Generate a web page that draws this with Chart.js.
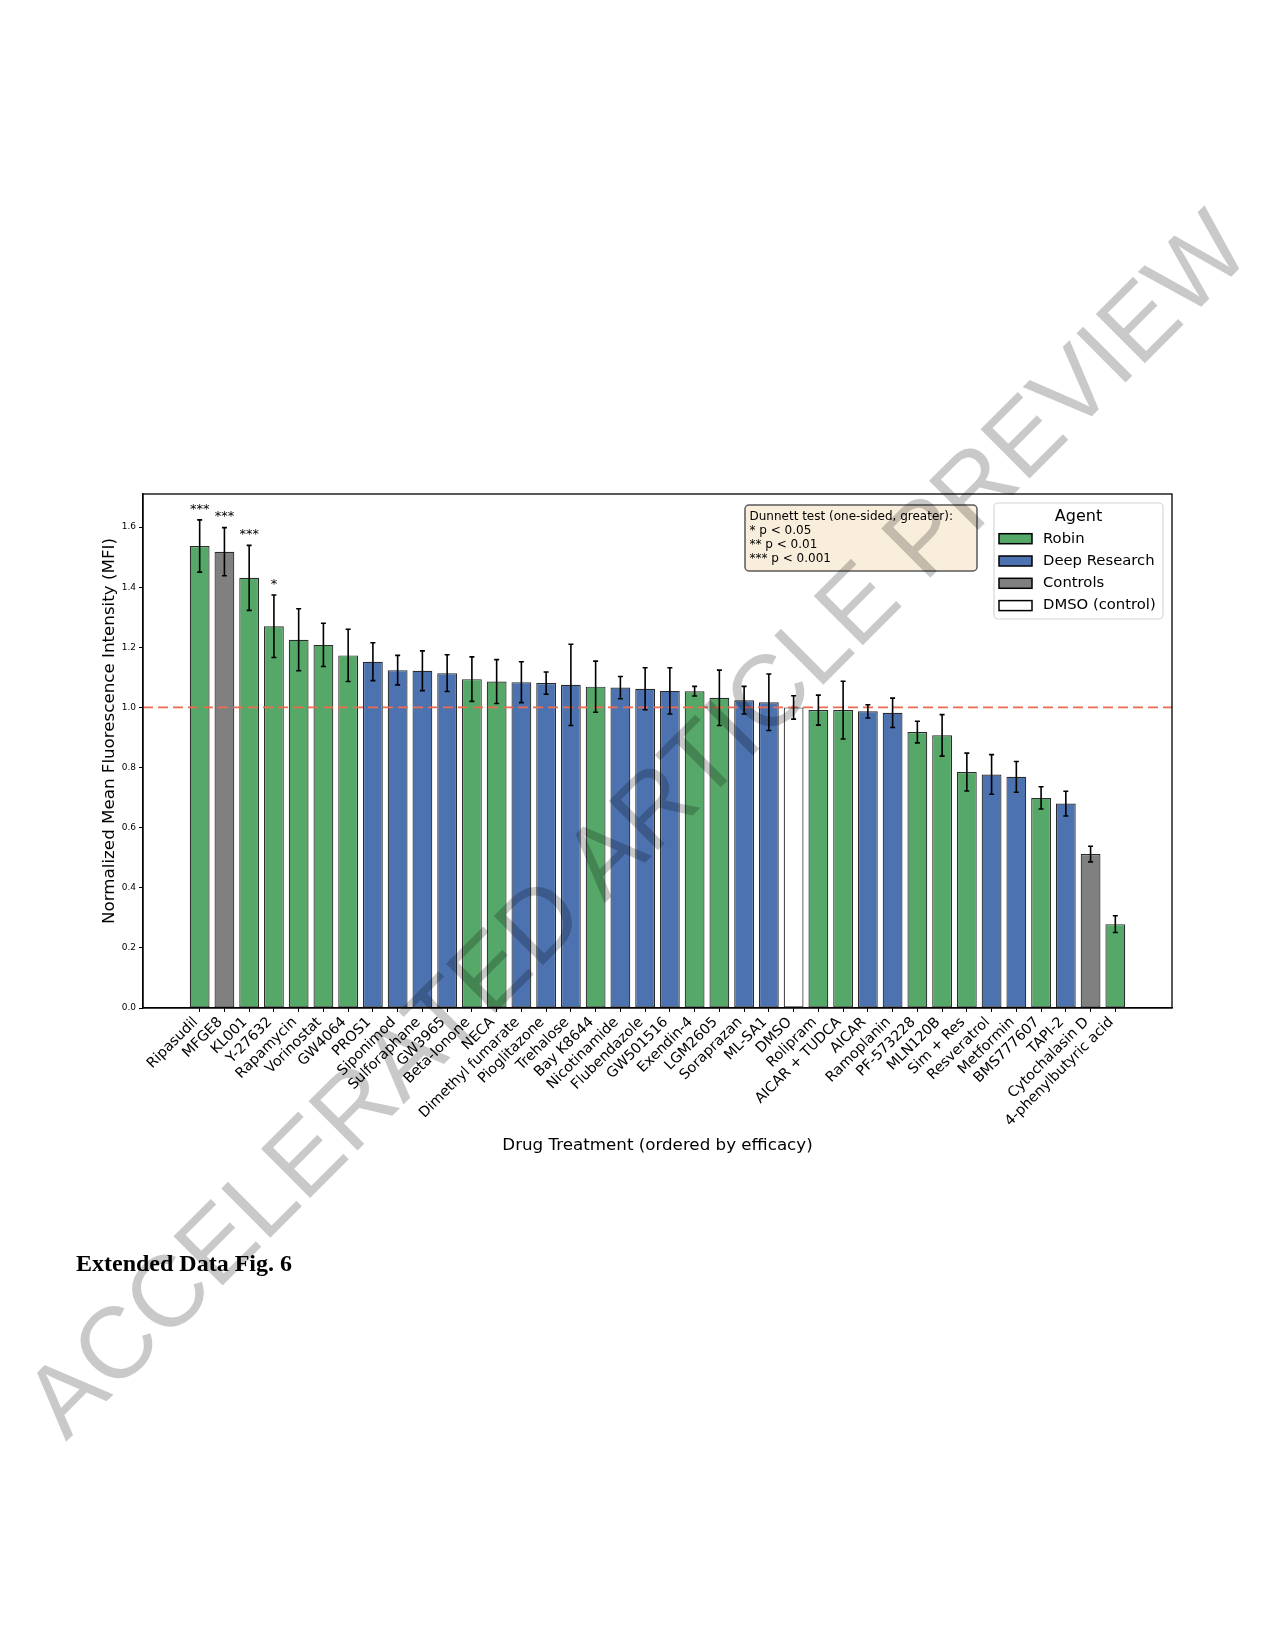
<!DOCTYPE html>
<html>
<head>
<meta charset="utf-8">
<script src="https://cdn.jsdelivr.net/npm/chart.js@4.4.1/dist/chart.umd.min.js"></script>
<style>
  html, body { margin: 0; padding: 0; background: #fff; }
  #page { position: relative; width: 1275px; height: 1650px; overflow: hidden; }
  #wrap { position: absolute; left: 0; top: 430px; width: 1275px; height: 760px; }
  #overlay { position: absolute; left: 0; top: 0; pointer-events: none; }
</style>
</head>
<body>
<div id="page">
  <div id="wrap"><canvas id="chart"></canvas></div>
  <svg id="overlay" width="1275" height="1650">
    <text x="76" y="1271" font-family="Liberation Serif" font-weight="bold" font-size="24" fill="#000">Extended Data Fig. 6</text>
    <text x="66" y="1442" transform="rotate(-45 66 1442)" font-family="Liberation Sans" font-size="101" fill="rgba(0,0,0,0.21)">ACCELERATED ARTICLE PREVIEW</text>
  </svg>
</div>
<script>
// drugs, ordered by efficacy
var drugs = ['Ripasudil', 'MFGE8', 'KL001', 'Y-27632', 'Rapamycin', 'Vorinostat', 'GW4064',
    'PROS1', 'Siponimod', 'Sulforaphane', 'GW3965', 'Beta-Ionone', 'NECA', 'Dimethyl fumarate',
    'Pioglitazone', 'Trehalose', 'Bay K8644', 'Nicotinamide', 'Flubendazole', 'GW501516',
    'Exendin-4', 'LGM2605', 'Soraprazan', 'ML-SA1', 'DMSO', 'Rolipram', 'AICAR + TUDCA', 'AICAR',
    'Ramoplanin', 'PF-573228', 'MLN120B', 'Sim + Res', 'Resveratrol', 'Metformin', 'BMS777607',
    'TAPI-2', 'Cytochalasin D', '4-phenylbutyric acid'];

var agents = ['Robin', 'Controls', 'Robin', 'Robin', 'Robin', 'Robin', 'Robin',
    'Deep Research', 'Deep Research', 'Deep Research', 'Deep Research', 'Robin', 'Robin', 'Deep Research',
    'Deep Research', 'Deep Research', 'Robin', 'Deep Research', 'Deep Research', 'Deep Research',
    'Robin', 'Robin', 'Deep Research', 'Deep Research', 'DMSO (control)', 'Robin', 'Robin', 'Deep Research',
    'Deep Research', 'Robin', 'Robin', 'Robin', 'Deep Research', 'Deep Research', 'Robin',
    'Deep Research', 'Controls', 'Robin'];

var mfi = [1.537, 1.518, 1.431, 1.270, 1.225, 1.208, 1.173,
    1.152, 1.124, 1.122, 1.114, 1.094, 1.086, 1.084,
    1.081, 1.075, 1.069, 1.066, 1.062, 1.055,
    1.054, 1.032, 1.024, 1.017, 1.000, 0.991, 0.991, 0.987,
    0.982, 0.918, 0.907, 0.785, 0.777, 0.769, 0.699,
    0.680, 0.512, 0.279];

var mfiErr = [0.087, 0.080, 0.108, 0.104, 0.103, 0.072, 0.087,
    0.063, 0.049, 0.066, 0.061, 0.074, 0.073, 0.068,
    0.037, 0.135, 0.085, 0.037, 0.070, 0.077,
    0.016, 0.092, 0.046, 0.094, 0.039, 0.050, 0.096, 0.022,
    0.049, 0.036, 0.069, 0.063, 0.066, 0.051, 0.037,
    0.041, 0.026, 0.028];

var stars = ['***', '***', '***', '*'];

var yTicks = [0.0, 0.2, 0.4, 0.6, 0.8, 1.0, 1.2, 1.4, 1.6];
var dmsoLevel = 1.0;

var legendAgents = ['Robin', 'Deep Research', 'Controls', 'DMSO (control)'];
var agentColors = {
    'Robin': '#55a868',
    'Deep Research': '#4c72b0',
    'Controls': '#808080',
    'DMSO (control)': '#ffffff'
};
var statsLines = ['Dunnett test (one-sided, greater):', '* p < 0.05', '** p < 0.01', '*** p < 0.001'];

var FONT = 'DejaVu Sans';

function roundRect(ctx, x, y, w, h, r) {
    ctx.beginPath();
    ctx.moveTo(x + r, y);
    ctx.lineTo(x + w - r, y);
    ctx.arcTo(x + w, y, x + w, y + r, r);
    ctx.lineTo(x + w, y + h - r);
    ctx.arcTo(x + w, y + h, x + w - r, y + h, r);
    ctx.lineTo(x + r, y + h);
    ctx.arcTo(x, y + h, x, y + h - r, r);
    ctx.lineTo(x, y + r);
    ctx.arcTo(x, y, x + r, y, r);
    ctx.closePath();
}

var extras = {
    id: 'extras',
    afterDatasetsDraw: function(chart) {
        var ctx = chart.ctx, a = chart.chartArea;
        var xs = chart.scales.x, ys = chart.scales.y;
        ctx.save();

        // DMSO reference line
        var yRef = ys.getPixelForValue(dmsoLevel);
        ctx.strokeStyle = '#ee6b4f';
        ctx.lineWidth = 1.7;
        ctx.setLineDash([10, 5]);
        ctx.beginPath();
        ctx.moveTo(a.left, yRef);
        ctx.lineTo(a.right, yRef);
        ctx.stroke();
        ctx.setLineDash([]);

        // error bars
        ctx.strokeStyle = '#000';
        ctx.lineWidth = 1.6;
        for (var i = 0; i < mfi.length; i++) {
            var px = xs.getPixelForValue(i);
            var top = ys.getPixelForValue(mfi[i] + mfiErr[i]);
            var bot = ys.getPixelForValue(mfi[i] - mfiErr[i]);
            ctx.beginPath();
            ctx.moveTo(px, top); ctx.lineTo(px, bot);
            ctx.moveTo(px - 2.5, top); ctx.lineTo(px + 2.5, top);
            ctx.moveTo(px - 2.5, bot); ctx.lineTo(px + 2.5, bot);
            ctx.stroke();
        }

        // significance
        ctx.fillStyle = '#000';
        ctx.font = '13px "' + FONT + '"';
        ctx.textAlign = 'center';
        ctx.textBaseline = 'alphabetic';
        stars.forEach(function(s, i) {
            if (!s) return;
            ctx.fillText(s, xs.getPixelForValue(i), ys.getPixelForValue(mfi[i] + mfiErr[i] + 0.024));
        });

        // axes frame
        ctx.strokeStyle = '#000';
        ctx.lineWidth = 1.3;
        ctx.strokeRect(a.left, a.top, a.right - a.left, a.bottom - a.top);
        ctx.restore();
    },
    afterDraw: function(chart) {
        var ctx = chart.ctx, a = chart.chartArea;
        ctx.save();

        // y axis title
        ctx.save();
        ctx.translate(a.left - 33, a.top + 237);
        ctx.rotate(-Math.PI / 2);
        ctx.fillStyle = '#000';
        ctx.font = '16.7px "' + FONT + '"';
        ctx.textAlign = 'center';
        ctx.textBaseline = 'middle';
        ctx.fillText('Normalized Mean Fluorescence Intensity (MFI)', 0, 0);
        ctx.restore();

        // legend
        var lw = 169, lh = 116;
        var lx = a.right - 9 - lw, ly = a.top + 9;
        roundRect(ctx, lx, ly, lw, lh, 4);
        ctx.fillStyle = 'rgba(255,255,255,0.85)';
        ctx.fill();
        ctx.strokeStyle = '#d6d6d6';
        ctx.lineWidth = 1.2;
        ctx.stroke();
        ctx.fillStyle = '#000';
        ctx.font = '16px "' + FONT + '"';
        ctx.textAlign = 'center';
        ctx.textBaseline = 'middle';
        ctx.fillText('Agent', lx + lw / 2, a.top + 22.7);
        ctx.font = '14.8px "' + FONT + '"';
        ctx.textAlign = 'left';
        legendAgents.forEach(function(name, i) {
            var cy = a.top + 44.7 + i * 22.3;
            ctx.fillStyle = agentColors[name];
            ctx.fillRect(lx + 5, cy - 5, 33, 10);
            ctx.strokeStyle = '#000';
            ctx.lineWidth = 1.5;
            ctx.strokeRect(lx + 5, cy - 5, 33, 10);
            ctx.fillStyle = '#000';
            ctx.fillText(name, lx + 49, cy);
        });

        // statistics note
        var bw = 232, bh = 66;
        var bx = lx - 17 - bw, by = a.top + 11;
        roundRect(ctx, bx, by, bw, bh, 4);
        ctx.fillStyle = '#f9eedb';
        ctx.fill();
        ctx.strokeStyle = '#5a5a5a';
        ctx.lineWidth = 1.5;
        ctx.stroke();
        ctx.fillStyle = '#000';
        ctx.font = '12px "' + FONT + '"';
        ctx.textAlign = 'left';
        ctx.textBaseline = 'middle';
        statsLines.forEach(function(t, i) {
            ctx.fillText(t, bx + 4.5, a.top + 23.3 + i * 13.9);
        });
        ctx.restore();
    }
};

var config = {
    type: 'bar',
    data: {
        datasets: [{
            data: mfi.map(function(v, i) { return {x: i, y: v}; }),
            backgroundColor: agents.map(function(g) { return agentColors[g]; }),
            borderColor: '#2b2b2b',
            borderWidth: 1.2,
            borderSkipped: false,
            barPercentage: 0.8,
            categoryPercentage: 1.0
        }]
    },
    options: {
        responsive: true,
        maintainAspectRatio: false,
        animation: false,
        layout: { padding: { left: 0, top: 64, right: 103, bottom: 0 } },
        plugins: {
            legend: { display: false },
            tooltip: { enabled: false }
        },
        scales: {
            x: {
                type: 'linear',
                offset: false,
                min: -2.29,
                max: 39.29,
                afterBuildTicks: function(scale) {
                    scale.ticks = drugs.map(function(d, i) { return {value: i}; });
                },
                afterFit: function(scale) { scale.height = 182; },
                grid: { display: true, offset: false, drawOnChartArea: false, drawTicks: true, tickLength: 4, color: '#000', lineWidth: 1 },
                border: { display: true, color: '#000', width: 1.3 },
                ticks: {
                    autoSkip: false,
                    maxRotation: 45,
                    minRotation: 45,
                    padding: 2,
                    labelOffset: -4,
                    color: '#000',
                    font: { family: FONT, size: 14.3 },
                    callback: function(value) { return drugs[value]; }
                },
                title: {
                    display: true,
                    text: 'Drug Treatment (ordered by efficacy)',
                    color: '#000',
                    font: { family: FONT, size: 16.7 },
                    padding: { top: 0, bottom: 34 }
                }
            },
            y: {
                min: 0,
                max: 1.71,
                afterBuildTicks: function(scale) {
                    scale.ticks = yTicks.map(function(v) { return {value: v}; });
                },
                afterFit: function(scale) { scale.width = 143; },
                grid: { display: true, drawOnChartArea: false, drawTicks: true, tickLength: 4, color: '#000', lineWidth: 1 },
                border: { display: true, color: '#000', width: 1.3 },
                ticks: {
                    padding: 3,
                    color: '#000',
                    font: { family: FONT, size: 9 },
                    callback: function(value) { return value.toFixed(1); }
                }
            }
        }
    },
    plugins: [extras]
};

var ctx = document.getElementById('chart').getContext('2d');
var chart = new Chart(ctx, config);
</script>
</body>
</html>
